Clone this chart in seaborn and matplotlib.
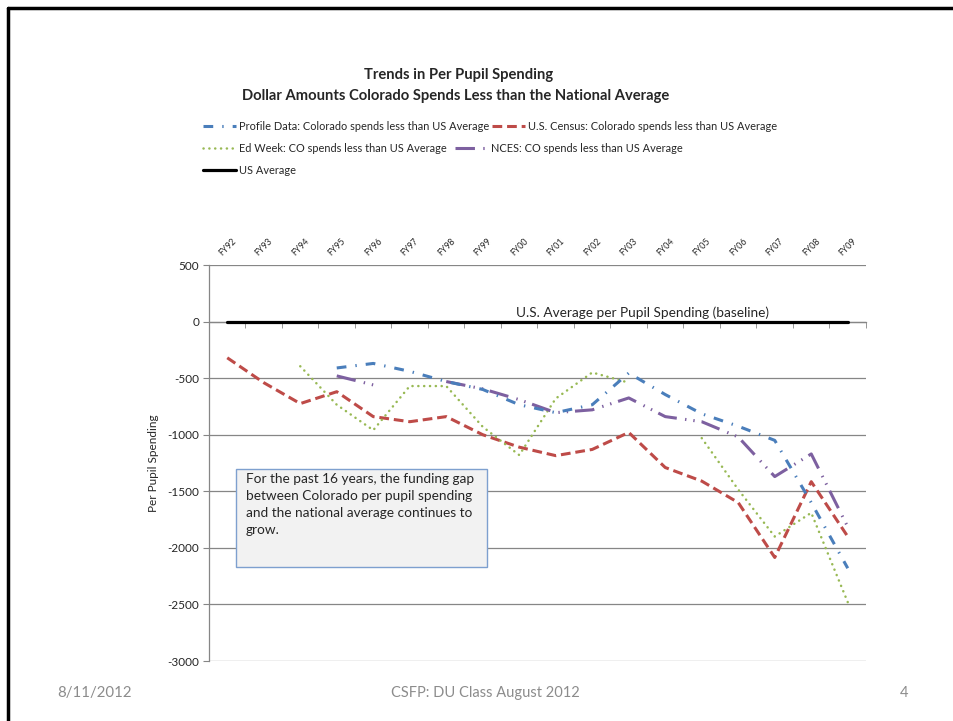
import numpy as np
import matplotlib.pyplot as plt
import seaborn as sns
from matplotlib.lines import Line2D
from matplotlib.patches import Rectangle

# ── data ─────────────────────────────────────────────────────────────────────
years = ["FY92", "FY93", "FY94", "FY95", "FY96", "FY97", "FY98", "FY99", "FY00",
         "FY01", "FY02", "FY03", "FY04", "FY05", "FY06", "FY07", "FY08", "FY09"]
nan = np.nan
profile = [nan, nan, nan, -410, -370, -440, -530, -600, -735,
           -805, -735, -455, -645, -815, -925, -1050, -1600, -2180]
census = [-320, -540, -725, -620, -840, -885, -840, -1000, -1110,
          -1185, -1130, -980, -1290, -1410, -1600, -2085, -1415, -1900]
edweek = [nan, nan, -395, -735, -960, -570, -570, -930, -1180,
          -680, -450, -540, nan, -1030, -1485, -1900, -1690, -2480]
nces = [nan, nan, nan, -480, -560, nan, -530, -595, -690,
        -805, -780, -675, -840, -885, -1020, -1370, -1170, -1815]
us_avg = [0] * len(years)

labels = ["Profile Data: Colorado spends less than US Average",
          "U.S. Census: Colorado spends less than US Average",
          "Ed Week: CO spends less than US Average",
          "NCES: CO spends less than US Average",
          "US Average"]

BLUE, RED, GREEN, PURPLE = "#4a7ebb", "#be4b48", "#98b954", "#7d60a0"
GRID = "#868686"

sns.set_style("white")
plt.rcParams["font.family"] = ["Lato", "DejaVu Sans"]
plt.rcParams["lines.scale_dashes"] = False
plt.rcParams["axes.unicode_minus"] = False

W, H = 954, 721
fig = plt.figure(figsize=(W / 100, H / 100), dpi=100)
ax = fig.add_axes([209 / W, 1 - 661 / H, 657 / W, 396 / H])


def draw(values, **kw):
    """plot one series, leaving gaps where the data is missing"""
    x = np.arange(len(values))
    y = np.array(values, dtype=float)
    ok = ~np.isnan(y)
    breaks = np.where(np.diff(ok.astype(int)) != 0)[0] + 1
    first = None
    for seg in np.split(np.arange(len(y)), breaks):
        if not ok[seg[0]]:
            continue
        sns.lineplot(x=x[seg], y=y[seg], ax=ax, legend=False, **kw)
        if first is None:
            first = ax.lines[-1]
    return first


h_us = draw(us_avg, color="black", lw=2.3, zorder=3)
h_census = draw(census, color=RED, lw=2.2, linestyle=(0, (7, 3.5)), zorder=4)
h_ed = draw(edweek, color=GREEN, lw=1.8, linestyle=(0, (0.1, 4.1)),
            dash_capstyle="round", zorder=5)
h_nces = draw(nces, color=PURPLE, lw=2.2,
              linestyle=(0, (14, 6, 1, 5, 1, 5)), zorder=6)
h_prof = draw(profile, color=BLUE, lw=2.2, linestyle=(0, (7, 6.5, 1, 6.5)), zorder=7)

# axes styling
ax.set_xlim(-0.5, len(years) - 0.5)
ax.set_ylim(-3000, 500)
ax.set_yticks(range(-3000, 501, 500))
ax.yaxis.grid(True, color=GRID, lw=0.9)
ax.set_axisbelow(True)
for s in ["top", "right"]:
    ax.spines[s].set_visible(False)
ax.spines["left"].set_color(GRID)
ax.spines["left"].set_linewidth(0.9)
ax.spines["bottom"].set_position(("data", 0))
ax.spines["bottom"].set_color(GRID)
ax.spines["bottom"].set_linewidth(0.9)

ax.set_xticks(range(len(years)), labels=years)
ax.set_xticks(np.arange(-0.5, len(years), 1), minor=True)
ax.tick_params(axis="x", which="major", bottom=False, top=False,
               labelbottom=False, labeltop=True, labelsize=6.3, labelrotation=45, pad=2)
ax.tick_params(axis="x", which="minor", bottom=True, top=False, length=4,
               color=GRID, direction="out")
ax.tick_params(axis="y", left=True, length=4, color=GRID, labelsize=8.5, pad=3)
for t in ax.get_xticklabels():
    t.set_ha("center")
ax.set_xlabel("")
ax.set_ylabel("Per Pupil Spending", fontsize=8.5, labelpad=6)

ax.text(7.9, 20, "U.S. Average per Pupil Spending (baseline)", fontsize=9.8,
        va="bottom", ha="left")

# text box
fig.add_artist(Rectangle((236 / W, 1 - 567 / H), 251 / W, 98 / H,
                         transform=fig.transFigure, facecolor="#f2f2f2",
                         edgecolor="#7ea0cf", lw=1, zorder=8))
fig.text(246 / W, 1 - 473 / H,
         "For the past 16 years, the funding gap\n"
         "between Colorado per pupil spending\n"
         "and the national average continues to\n"
         "grow.", fontsize=9.8, va="top", ha="left", linespacing=1.5, zorder=9)

# title
fig.text(459 / W, 1 - 75 / H, "Trends in Per Pupil Spending",
         fontsize=10.6, fontweight="bold", ha="center", va="center")
fig.text(456 / W, 1 - 96 / H,
         "Dollar Amounts Colorado Spends Less than the National Average",
         fontsize=10.6, fontweight="bold", ha="center", va="center")

# legend, placed entry by entry as in the slide
entries = [(h_prof, labels[0], 203, 126), (h_census, labels[1], 492, 126),
           (h_ed, labels[2], 203, 148), (h_nces, labels[3], 455, 148),
           (h_us, labels[4], 203, 170)]
for h, lab, px, py in entries:
    fig.legend(handles=[h], labels=[lab], loc="center left",
               bbox_to_anchor=(px / W, 1 - py / H), frameon=False,
               fontsize=7.9, handlelength=3.0, handletextpad=0.25,
               borderpad=0, borderaxespad=0)

# footer
FOOT = "#8c8c8c"
fig.text(95 / W, 1 - 693 / H, "8/11/2012", fontsize=10.8, color=FOOT,
         ha="center", va="center")
fig.text(485 / W, 1 - 693 / H, "CSFP: DU Class August 2012", fontsize=10.5,
         color=FOOT, ha="center", va="center")
fig.text(904 / W, 1 - 693 / H, "4", fontsize=10.5, color=FOOT,
         ha="center", va="center")

# slide frame (top and left edges)
fig.add_artist(Line2D([8 / W, 1], [1 - 8 / H, 1 - 8 / H], color="black", lw=2.5,
                      transform=fig.transFigure))
fig.add_artist(Line2D([8 / W, 8 / W], [0, 1 - 8 / H], color="black", lw=2.5,
                      transform=fig.transFigure))

fig.savefig("out.png", dpi=100)
plt.close()
